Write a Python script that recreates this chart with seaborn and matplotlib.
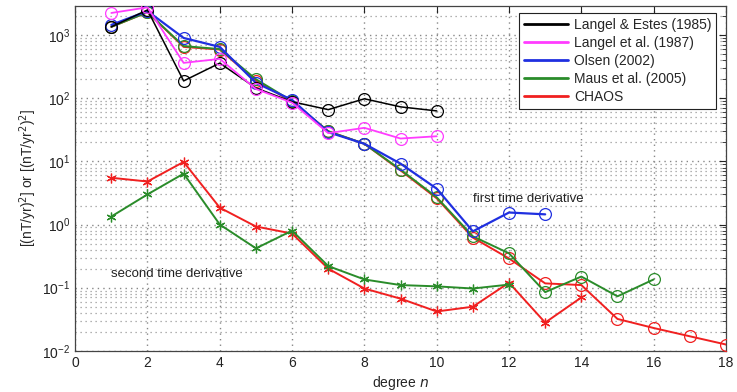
import numpy as np
import pandas as pd
import matplotlib
matplotlib.use("Agg")
import matplotlib.pyplot as plt
import seaborn as sns
from matplotlib.lines import Line2D
from matplotlib.ticker import LogLocator, NullFormatter, MultipleLocator

# ---- data ----
n_le = [1, 2, 3, 4, 5, 6, 7, 8, 9, 10]
le_sv = [1350, 2500, 188, 360, 145, 88, 66, 98, 73, 63]

n_l87 = [1, 2, 3, 4, 5, 6, 7, 8, 9, 10]
l87_sv = [2240, 2750, 363, 420, 140, 85, 28, 34, 23, 25]

n_ol = [1, 2, 3, 4, 5, 6, 7, 8, 9, 10, 11, 12, 13]
ol_sv = [1450, 2400, 900, 650, 175, 94, 29, 19, 9.2, 3.7, 0.78, 1.55, 1.45]

n_maus_sv = list(range(1, 17))
maus_sv = [1350, 2300, 670, 600, 200, 90, 30, 19, 7.4, 2.7, 0.65, 0.35,
           0.085, 0.15, 0.073, 0.135]

n_chaos_sv = list(range(1, 19))
chaos_sv = [1350, 2300, 650, 590, 190, 88, 30, 19, 7.2, 2.6, 0.62, 0.29,
            0.117, 0.11, 0.032, 0.023, 0.017, 0.0126]

n_maus_sa = list(range(1, 13))
maus_sa = [1.34, 3.0, 6.4, 1.0, 0.42, 0.8, 0.22, 0.135, 0.11, 0.105, 0.097, 0.112]

n_chaos_sa = list(range(1, 15))
chaos_sa = [5.5, 4.8, 9.8, 1.85, 0.93, 0.72, 0.2, 0.097, 0.067, 0.042, 0.05,
            0.12, 0.028, 0.07]

labels = ["Langel & Estes (1985)", "Langel et al. (1987)", "Olsen (2002)",
          "Maus et al. (2005)", "CHAOS"]
colors = ["#000000", "#ff3cff", "#1f2fe0", "#2a8c2a", "#f02020"]

sns.set_style("white")
plt.rcParams['font.family'] = ['Liberation Sans', 'DejaVu Sans']

fig = plt.figure(figsize=(7.37, 3.92), dpi=100)
ax = fig.add_axes([0.102, 0.105, 0.883, 0.88])

star = (6, 2, 0)

def circ(x, y, c, lw=1.3, z=2):
    sns.lineplot(x=x, y=y, ax=ax, color=c, linewidth=lw, marker='o',
                 markersize=8.5, markerfacecolor='none', markeredgecolor=c,
                 markeredgewidth=0.9, zorder=z, legend=False)

def stars(x, y, c, lw=1.3, z=2):
    sns.lineplot(x=x, y=y, ax=ax, color=c, linewidth=lw, marker=star,
                 markersize=7, markeredgecolor=c, markeredgewidth=0.9,
                 zorder=z, legend=False)

# second time derivative
stars(n_chaos_sa, chaos_sa, colors[4], lw=1.4, z=3)
stars(n_maus_sa, maus_sa, colors[3], lw=1.4, z=4)
# first time derivative
circ(n_chaos_sv, chaos_sv, colors[4], lw=1.4, z=3)
circ(n_maus_sv, maus_sv, colors[3], lw=1.4, z=4)
circ(n_ol, ol_sv, colors[2], lw=1.6, z=5)
circ(n_le, le_sv, colors[0], lw=1.1, z=6)
circ(n_l87, l87_sv, colors[1], lw=1.3, z=7)

ax.set_yscale('log')
ax.set_xlim(0, 18)
ax.set_ylim(1e-2, 2900)
ax.xaxis.set_major_locator(MultipleLocator(2))
ax.yaxis.set_major_locator(LogLocator(base=10, numticks=10))
ax.yaxis.set_minor_locator(LogLocator(base=10, subs=np.arange(2, 10), numticks=100))
ax.yaxis.set_minor_formatter(NullFormatter())

ax.grid(True, which='major', axis='both', color='#888888', linestyle=(0, (1, 3)), linewidth=1.0)
ax.grid(True, which='minor', axis='y', color='#999999', linestyle=(0, (1, 3)), linewidth=0.9)
ax.set_axisbelow(True)

ax.tick_params(axis='both', which='both', direction='in', top=True, right=True,
               labelsize=10, colors='#222222')
ax.tick_params(which='major', length=5)
ax.tick_params(which='minor', length=3)
for s in ax.spines.values():
    s.set_color('#444444')
    s.set_linewidth(0.9)

ax.set_xlabel(r"degree $n$", fontsize=10, labelpad=3)
ax.set_ylabel(r"[(nT/yr)$^2$] or [(nT/yr$^2$)$^2$]", fontsize=10, labelpad=2)

ax.text(11.0, 2.3, "first time derivative", fontsize=9.5, color='#222222', zorder=10)
ax.text(1.0, 0.15, "second time derivative", fontsize=9.5, color='#222222', zorder=10)

handles = [Line2D([0], [0], color=c, linewidth=2) for c in colors]
leg = ax.legend(handles, labels, loc='upper right', bbox_to_anchor=(0.985, 0.98),
                fontsize=10, frameon=True, fancybox=False, framealpha=1,
                edgecolor='#222222', handlelength=3.2, labelspacing=0.3,
                borderpad=0.35, handletextpad=0.4, borderaxespad=0)
leg.get_frame().set_linewidth(0.8)
leg.set_zorder(20)

fig.savefig("out.png", dpi=100)
